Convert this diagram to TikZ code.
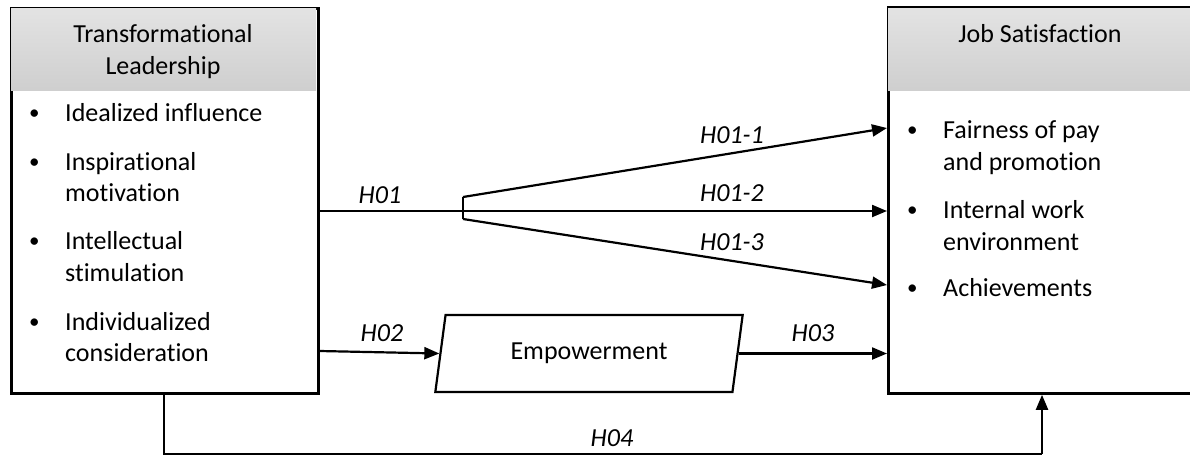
\documentclass[tikz,border=0pt]{standalone}
\usepackage{fontspec}
\setmainfont{Carlito}[Ligatures={NoCommon,NoRare}]
\usetikzlibrary{arrows.meta,shapes.geometric,calc}
\tikzset{
  box/.style={draw=black,line width=2.8pt,fill=white,rectangle,inner sep=0pt,anchor=north west},
  hdr/.style={rectangle,inner sep=0pt,anchor=north west,top color=gray!22,bottom color=gray!38,draw=none},
  txt/.style={inner sep=0pt,anchor=base west,font=\fontsize{26}{30}\selectfont},
  bul/.style={inner sep=0pt,anchor=base west,font=\fontsize{21}{25}\selectfont},
  ctxt/.style={inner sep=0pt,anchor=base,font=\fontsize{26}{30}\selectfont},
  lbl/.style={inner sep=0pt,anchor=base,font=\fontsize{26}{30}\selectfont\itshape},
  conn/.style={line width=2.2pt,-{Triangle[length=15pt,width=12pt]}},
  plain/.style={line width=2.2pt}
}
\begin{document}
\begin{tikzpicture}[x=1pt,y=-1pt]
\useasboundingbox (0,0) rectangle (1190,456);
% left box
\node[box,minimum width=307pt,minimum height=385pt] (tl) at (10,7) {};
\node[hdr,minimum width=305pt,minimum height=82pt] (tlh) at (11,8) {};
\node[ctxt] (tlh1) at (163,42) {Transformational};
\node[ctxt] (tlh2) at (163,74) {Leadership};
\foreach \y/\t/\b in {121/Idealized influence/1,170/Inspirational/1,201/motivation/0,249/Intellectual/1,281/stimulation/0,330/Individualized/1,361/consideration/0}{
  \ifnum\b=1 \node[bul] at (29,\y-2) {•};\fi
  \node[txt] at (65,\y) {\t};
}
% right box
\node[box,minimum width=310pt,minimum height=385pt] (js) at (887,7) {};
\node[hdr,minimum width=310pt,minimum height=82pt] (jsh) at (888,8) {};
\draw[line width=2.8pt] (887,7) -- (1195,7);
\node[ctxt] (jsh1) at (1040,42) {Job Satisfaction};
\foreach \y/\t/\b in {138/Fairness of pay/1,170/and promotion/0,218/Internal work/1,250/environment/0,296/Achievements/1}{
  \ifnum\b=1 \node[bul] at (907,\y-2) {•};\fi
  \node[txt] at (943,\y) {\t};
}
% empowerment
\node[trapezium,trapezium stretches=true,trapezium left angle=75,trapezium right angle=105,
  draw,line width=2.2pt,minimum width=308pt,minimum height=77pt,inner sep=0pt,
  font=\fontsize{26}{30}\selectfont] (emp) at (589,353.5) {Empowerment};
% H01 connectors
\coordinate (j0) at (463,211);
\coordinate (ja) at (463,197);
\coordinate (jb) at (463,219);
\draw[plain] (tl.east |- j0) -- (j0);
\draw[plain] (ja) -- (jb);
\draw[conn] (ja) -- (js.west |- 0,128);
\draw[conn] (j0) -- (js.west |- j0);
\draw[conn] (jb) -- (js.west |- 0,285);
% H02, H03
\draw[conn] (tl.east |- 0,351) -- (emp.west);
\draw[conn] (emp.east) -- (js.west |- emp.east);
% H04
\coordinate (b1) at (164,454);
\coordinate (b2) at (1042,454);
\draw[plain] (tl.south -| b1) -- (b1) -- (b2);
\draw[conn] (b2) -- (js.south -| b2);
% labels
\node[lbl] (l1) at (380,203) {H01};
\node[lbl] (l11) at (732,143) {H01-1};
\node[lbl] (l12) at (732,201) {H01-2};
\node[lbl] (l13) at (732,250) {H01-3};
\node[lbl] (l2) at (382,341) {H02};
\node[lbl] (l3) at (813,341) {H03};
\node[lbl] (l4) at (612,446) {H04};
\end{tikzpicture}
\end{document}
